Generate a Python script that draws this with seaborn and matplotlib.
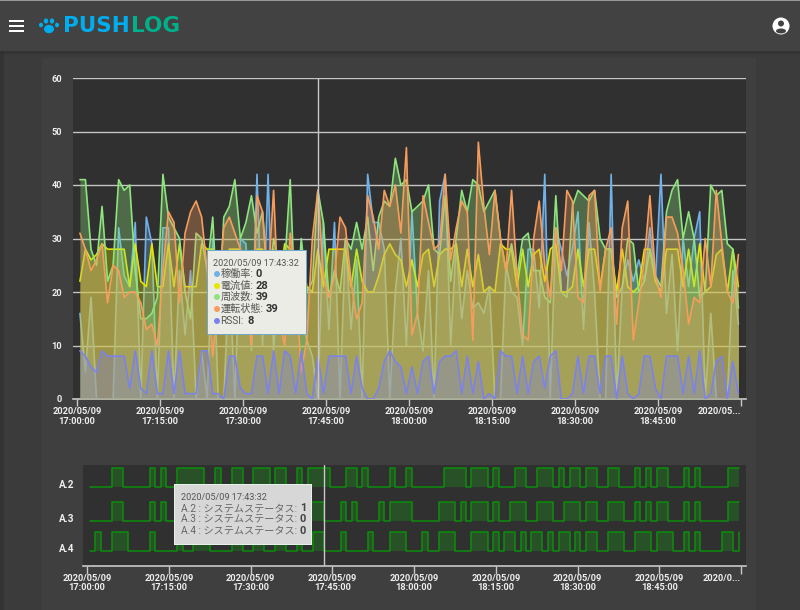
import pandas as pd
import matplotlib
matplotlib.use("Agg")
import matplotlib.pyplot as plt
from matplotlib.patches import Rectangle, Ellipse
import seaborn as sns

W, H = 800, 610

# one sample a minute, 120 samples
running = [16,5,19,0,0,0,0,32,23,21,
           33,0,34,29,0,32,32,0,24,12,
           24,0,9,0,30,0,0,24,0,30,
           29,9,42,10,42,9,25,13,12,25,
           18,11,8,0,33,13,33,0,30,13,
           26,0,42,33,33,28,0,20,30,10,
           35,16,9,24,0,37,42,10,29,15,
           24,17,18,16,21,0,0,25,20,19,
           10,28,28,17,42,0,32,28,23,28,
           35,13,33,20,0,0,42,0,21,26,
           22,26,22,32,22,42,16,27,9,30,
           21,30,35,0,16,0,0,0,24,14]
current = [22,28,26,27,29,28,28,28,28,21,
           29,22,21,29,21,21,29,21,29,21,
           21,21,29,28,28,21,21,28,28,28,
           21,22,28,28,20,28,21,29,28,21,
           28,21,20,28,21,28,28,28,28,21,
           28,22,20,20,23,27,29,27,26,21,
           26,21,27,28,21,27,28,28,29,21,
           28,21,27,20,21,20,29,28,28,21,
           28,21,27,28,22,28,29,20,20,21,
           28,21,28,28,21,28,28,20,28,21,
           20,21,28,28,22,20,28,28,28,21,
           28,21,29,20,21,27,28,20,28,21]
freq = [41,41,28,25,36,22,25,41,39,40,
        24,15,15,16,19,42,34,32,30,20,
        15,31,30,24,34,14,34,36,41,30,
        33,38,31,35,20,30,25,25,41,15,
        30,20,22,39,33,19,24,20,30,28,
        33,28,34,24,34,37,36,45,40,41,
        35,36,37,40,28,27,38,22,30,39,
        35,41,40,35,37,39,30,24,29,23,
        30,31,24,24,19,18,38,20,19,36,
        39,38,37,39,30,28,28,19,21,30,
        29,20,22,28,23,21,35,39,41,30,
        35,30,19,20,40,38,39,29,28,17]
state = [31,28,24,26,29,18,25,24,19,20,
         20,18,13,14,10,24,35,33,18,31,
         35,37,34,24,8,20,32,34,31,28,
         20,10,38,35,22,39,15,10,31,22,
         5,11,30,39,23,19,23,34,32,22,
         15,18,38,34,28,39,36,40,31,47,
         12,16,38,33,28,29,42,26,32,37,
         35,11,48,36,27,39,30,24,39,23,
         12,11,30,37,25,19,32,24,39,37,
         19,18,38,39,20,28,32,14,32,37,
         11,18,26,38,23,19,34,34,31,24,
         14,19,18,30,21,39,29,20,18,27]
rssi = [9,8,6,5,9,8,8,8,8,2,
        9,2,1,9,1,1,9,1,9,1,
        1,1,9,9,1,1,0,8,8,2,
        1,1,8,8,1,9,1,9,8,1,
        9,1,0,8,1,8,8,8,8,1,
        8,2,0,0,2,7,9,7,6,1,
        6,1,7,8,1,7,8,8,9,1,
        8,1,7,0,1,0,9,8,8,1,
        8,1,7,8,2,8,9,0,0,1,
        8,1,8,8,1,8,8,0,8,1,
        0,1,8,8,2,0,8,8,8,1,
        8,1,9,0,1,7,8,0,7,1]

status_a2 = [0,0,0,0,1,1,0,0,0,0,
             0,1,0,1,0,0,1,1,1,1,
             1,0,0,1,0,0,1,1,0,0,
             1,1,1,0,1,1,0,0,1,0,
             1,1,1,1,0,0,0,1,1,0,
             1,0,0,0,0,1,0,0,1,0,
             0,0,0,0,0,1,1,1,1,0,
             1,1,1,0,1,0,0,0,1,1,
             0,0,1,1,1,0,1,0,1,1,
             0,1,1,0,0,1,1,0,0,0,
             1,0,1,0,1,1,0,0,0,1,
             0,1,0,0,0,0,0,1,1,1]
status_a3 = [0,0,0,0,1,1,0,0,0,0,
             0,1,0,1,0,0,1,1,1,1,
             0,0,0,1,0,0,1,1,0,0,
             1,1,1,0,1,1,0,0,1,0,
             1,1,1,0,0,0,1,0,1,0,
             0,0,0,1,0,1,1,1,1,0,
             0,0,0,0,1,1,1,0,1,0,
             1,1,1,0,1,0,0,1,1,1,
             0,0,1,1,1,0,0,1,1,1,
             0,1,1,0,0,1,1,1,0,0,
             1,0,1,0,1,1,0,0,0,1,
             0,1,0,0,0,0,0,1,1,1]
status_a4 = [0,1,0,0,1,1,1,0,0,0,
             0,1,0,0,0,0,1,0,0,1,
             1,1,0,0,0,0,1,1,0,0,
             1,1,0,0,1,1,0,0,1,0,
             0,1,1,0,0,0,1,0,0,0,
             0,1,0,0,0,1,1,1,0,0,
             0,1,0,0,1,1,1,0,0,0,
             1,1,1,0,1,0,1,1,0,1,
             0,1,1,0,1,0,1,1,0,1,
             0,1,1,0,0,1,1,1,0,0,
             1,1,1,0,1,1,1,0,0,1,
             0,1,0,0,0,0,1,1,0,1]

series_names = ["稼働率", "電流値", "周波数", "運転状態", "RSSI"]
series_colors = ["#6fb1e8", "#e6e600", "#8ee57d", "#f79d5c", "#7b83eb"]
device_names = ["A.2", "A.3", "A.4"]
y_ticks = [0, 10, 20, 30, 40, 50, 60]
tick_times = ["17:00:00", "17:15:00", "17:30:00", "17:45:00", "18:00:00",
              "18:15:00", "18:30:00", "18:45:00"]
cursor_time = "2020-05-09 17:43:32"

sns.set_theme(style="dark")
FONT = ["Roboto", "Noto Sans CJK JP", "DejaVu Sans"]
plt.rcParams["font.family"] = FONT

times = pd.date_range("2020-05-09 17:00:32", periods=len(rssi), freq="min")
df = pd.DataFrame({"time": times, "稼働率": running, "電流値": current,
                   "周波数": freq, "運転状態": state, "RSSI": rssi,
                   "A.2": status_a2, "A.3": status_a3, "A.4": status_a4})


def fx(x):
    return x / W


def fy(y):
    return 1 - y / H


def add_rect(fig, x0, y0, x1, y1, color, z=-1, alpha=1.0):
    fig.add_artist(Rectangle((fx(x0), fy(y1)), (x1 - x0) / W, (y1 - y0) / H,
                             transform=fig.transFigure, color=color, lw=0,
                             zorder=z, alpha=alpha))


def add_ellipse(fig, cx, cy, w, h, color, z=6):
    fig.add_artist(Ellipse((fx(cx), fy(cy)), w / W, h / H, color=color,
                           transform=fig.transFigure, lw=0, zorder=z))


def add_text(fig, x, y, s, size=7, color="#eeeeee", weight="normal", ha="left", z=12, family=None):
    fig.text(fx(x), fy(y), s, fontsize=size, color=color, fontweight=weight,
             ha=ha, va="center", zorder=z, family=family or FONT)


def add_axes_px(fig, x0, y0, x1, y1):
    return fig.add_axes([fx(x0), fy(y1), (x1 - x0) / W, (y1 - y0) / H])


def set_time_ticks(ax, last):
    ticks = [pd.Timestamp("2020-05-09 " + t) for t in tick_times] + [pd.Timestamp("2020-05-09 19:00:00")]
    ax.set_xticks(ticks)
    labels = ax.set_xticklabels(["2020/05/09\n" + t for t in tick_times] + [last])
    labels[-1].set_ha("right")


def finish_axis(ax):
    ax.set_xlabel("")
    ax.set_ylabel("")
    for side in ["top", "right", "left"]:
        ax.spines[side].set_visible(False)
    ax.spines["bottom"].set_color("#c8c8c8")
    ax.spines["bottom"].set_linewidth(1.2)
    for t in ax.get_xticklabels() + ax.get_yticklabels():
        t.set_fontweight("bold")
        t.set_linespacing(1.1)


fig = plt.figure(figsize=(W / 100, H / 100), dpi=100, facecolor="#3b3b3b")

# page chrome
add_rect(fig, 42, 58, 756, 610, "#3f3f3f", z=-2)
add_rect(fig, 0, 0, 4, 610, "#333333", z=-2)
add_rect(fig, 0, 0, 800, 51, "#424242", z=5)
add_rect(fig, 0, 0, 800, 1, "#9a9a9a", z=6)
add_rect(fig, 0, 51, 800, 54, "#303030", z=4, alpha=0.6)
for y in [21, 26, 31]:
    add_rect(fig, 9, y - 1, 24, y + 1, "#ffffff", z=6)

# paw + logo
paw = "#00aeef"
for cx, cy, rx, ry in [(41, 25, 2, 2.3), (46, 21, 2.2, 2.6), (52, 21, 2.2, 2.6),
                       (57, 25, 2, 2.3), (49, 29, 5, 4.2)]:
    add_ellipse(fig, cx, cy, 2 * rx, 2 * ry, paw)
add_text(fig, 63, 26, "PUSH", size=15.5, color="#00aeef", weight="bold", z=6, family="DejaVu Sans")
add_text(fig, 131, 26, "LOG", size=15.5, color="#00b08a", weight="bold", z=6, family="DejaVu Sans")

# user icon
add_ellipse(fig, 781, 26, 17, 17, "#ffffff")
add_ellipse(fig, 781, 23.5, 6, 6, "#424242", z=7)
add_ellipse(fig, 781, 31, 10, 5, "#424242", z=7)

# top chart, later series paint over the lines of the earlier ones
ax = add_axes_px(fig, 73, 78, 746, 399)
ax.set_facecolor("#303030")
for k, (name, color) in enumerate(zip(series_names, series_colors)):
    ax.fill_between(df["time"], df[name], 0, color=color, alpha=0.32, lw=0, zorder=3 + k)
    sns.lineplot(data=df, x="time", y=name, color=color, lw=1.2, ax=ax,
                 errorbar=None, zorder=3.5 + k)
ax.axvline(pd.Timestamp(cursor_time), color="#c8c8c8", lw=1, zorder=9)
ax.set_ylim(0, 60)
ax.set_xlim(pd.Timestamp("2020-05-09 16:59:17"), pd.Timestamp("2020-05-09 19:00:54"))
ax.set_yticks(y_ticks)
ax.set_yticklabels([str(v) for v in y_ticks])
ax.grid(axis="y", color="#c4c4c4", lw=1)
ax.grid(axis="x", visible=False)
ax.set_axisbelow(True)
set_time_ticks(ax, "2020/05...\n ")
ax.tick_params(axis="x", bottom=True, length=5, width=1, color="#c8c8c8",
               labelsize=6.7, labelcolor="#eeeeee", pad=1)
ax.tick_params(axis="y", left=False, length=0, labelsize=6.7, labelcolor="#eeeeee", pad=8)
finish_axis(ax)

# status chart, y in screen-like units so that rows sit unevenly like the original
bottom = add_axes_px(fig, 83, 465, 746, 566)
bottom.set_facecolor("#303030")
row_base = {"A.2": 22, "A.3": 56, "A.4": 86}
row_height = 19
for name in device_names:
    base = row_base[name]
    level = base - df[name] * row_height
    bottom.fill_between(df["time"], level, base, step="post", color="#1f7a1f",
                        alpha=0.45, lw=0, zorder=2)
    sns.lineplot(x=df["time"], y=level, color="#0b8f0b", lw=1.1, ax=bottom,
                 errorbar=None, drawstyle="steps-post", zorder=3)
bottom.axvline(pd.Timestamp(cursor_time), color="#c8c8c8", lw=1, zorder=5)
bottom.set_ylim(101, 0)
bottom.set_xlim(pd.Timestamp("2020-05-09 16:59:16"), pd.Timestamp("2020-05-09 19:00:54"))
bottom.set_yticks([row_base[n] - 3 for n in device_names])
bottom.set_yticklabels(device_names)
set_time_ticks(bottom, "2020/0...\n ")
bottom.tick_params(axis="x", bottom=True, length=6, width=1, color="#c8c8c8",
                   labelsize=6.7, labelcolor="#eeeeee", pad=-0.5)
bottom.tick_params(axis="y", left=False, length=0, labelsize=7.2, labelcolor="#eeeeee", pad=6.5)
bottom.grid(False)
finish_axis(bottom)

# tooltip over top chart
add_rect(fig, 206.5, 249.5, 307, 335, "#6ea8cf", z=10)
add_rect(fig, 207.5, 250.5, 306, 334, "#f0efe6", z=10.5, alpha=0.97)
add_text(fig, 213, 263, "2020/05/09 17:43:32", size=6.6, color="#555555")
rows_top = [(274, "稼働率:", "0", 256), (286, "電流値:", "28", 256), (297, "周波数:", "39", 256),
            (309, "運転状態:", "39", 266), (321, "RSSI:", "8", 247)]
for (y, label, value, vx), color in zip(rows_top, series_colors):
    add_ellipse(fig, 217, y, 6, 6, color, z=12)
    add_text(fig, 220.5, y, label, size=7.3, color="#555555")
    add_text(fig, vx, y, value, size=8, color="#333333", weight="bold")

# tooltip over status chart
add_rect(fig, 174, 484, 312, 545, "#e6f2e6", z=10)
add_rect(fig, 175, 485, 311, 544, "#d6d6d6", z=10.5, alpha=0.96)
add_text(fig, 181, 497, "2020/05/09 17:43:32", size=6.6, color="#555555")
rows_bottom = [(508, "A.2 : システムステータス:", "1"), (519, "A.3 : システムステータス:", "0"),
               (531, "A.4 : システムステータス:", "0")]
for y, label, value in rows_bottom:
    add_text(fig, 181, y, label, size=7.3, color="#666666")
    add_text(fig, 300, y, value, size=8, color="#444444", weight="bold")

fig.savefig("out.png", dpi=100, facecolor=fig.get_facecolor())
